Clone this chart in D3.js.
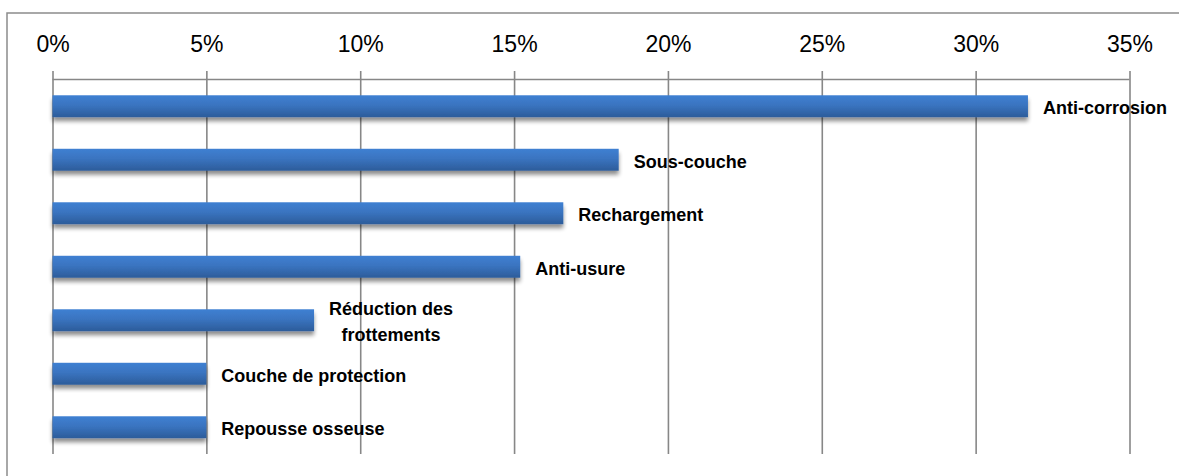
<!DOCTYPE html>
<html>
<head>
<meta charset="utf-8">
<script src="https://cdn.jsdelivr.net/npm/d3@7"></script>
<style>
  html, body { margin: 0; padding: 0; background: #fff; }
  svg { display: block; }
</style>
</head>
<body>
<svg id="chart" width="1179" height="476"></svg>
<script>
// Usage shares by application (percent)
const categories = [
  "Anti-corrosion",
  "Sous-couche",
  "Rechargement",
  "Anti-usure",
  "Réduction des frottements",
  "Couche de protection",
  "Repousse osseuse"
];
const values = [31.7, 18.4, 16.6, 15.2, 8.5, 5.0, 5.0];
const tickValues = [0, 5, 10, 15, 20, 25, 30, 35];
// Multi-line label layout
const labelLines = {
  "Réduction des frottements": ["Réduction des", "frottements"]
};

const svg = d3.select("#chart");
const W = 1179, H = 476;

const plot = { left: 52.5, right: 1129.5, top: 79.5, bottom: 454 };

const x = d3.scaleLinear().domain([0, 35]).range([plot.left, plot.right]);
const y = d3.scaleBand().domain(categories).range([plot.top, plot.bottom]).paddingInner(0.59).paddingOuter(0.295);

const defs = svg.append("defs");
const grad = defs.append("linearGradient")
  .attr("id", "barFill").attr("x1", 0).attr("y1", 0).attr("x2", 0).attr("y2", 1);
grad.append("stop").attr("offset", "0%").attr("stop-color", "#3f80d2");
grad.append("stop").attr("offset", "45%").attr("stop-color", "#3a74c0");
grad.append("stop").attr("offset", "100%").attr("stop-color", "#2c5c9a");

const shadow = defs.append("filter").attr("id", "barShadow")
  .attr("x", "-5%").attr("y", "-30%").attr("width", "110%").attr("height", "190%");
shadow.append("feGaussianBlur").attr("in", "SourceAlpha").attr("stdDeviation", 2.2).attr("result", "b");
shadow.append("feOffset").attr("in", "b").attr("dx", 0).attr("dy", 3.5).attr("result", "o");
shadow.append("feComponentTransfer").attr("in", "o").attr("result", "s")
  .append("feFuncA").attr("type", "linear").attr("slope", 0.45);
const merge = shadow.append("feMerge");
merge.append("feMergeNode").attr("in", "s");
merge.append("feMergeNode").attr("in", "SourceGraphic");

// Chart frame
svg.append("rect")
  .attr("x", 7).attr("y", 13)
  .attr("width", W + 20).attr("height", H + 20)
  .attr("fill", "none").attr("stroke", "#8c8c8c").attr("stroke-width", 1.5);

// Vertical gridlines + top axis
const axis = d3.axisTop(x)
  .tickValues(tickValues)
  .tickSize(plot.top - plot.bottom)
  .tickFormat(d => d + "%");

const gAxis = svg.append("g")
  .attr("transform", `translate(0,${plot.top})`)
  .call(axis);
gAxis.select(".domain").remove();
gAxis.selectAll(".tick line")
  .attr("y1", -8.5)
  .attr("y2", plot.bottom - plot.top)
  .attr("stroke", "#878787").attr("stroke-width", 1.6);
gAxis.selectAll(".tick text")
  .attr("y", -27.5)
  .attr("dy", 0)
  .attr("fill", "#000")
  .attr("font-family", "'Liberation Sans', Arial, sans-serif")
  .attr("font-size", 23);

// Axis baseline
svg.append("line")
  .attr("x1", x(0)).attr("x2", x(35))
  .attr("y1", plot.top).attr("y2", plot.top)
  .attr("stroke", "#878787").attr("stroke-width", 1.6);

// Bars
svg.append("g").selectAll("rect")
  .data(categories)
  .join("rect")
  .attr("x", x(0))
  .attr("y", d => y(d))
  .attr("width", (d, i) => x(values[i]) - x(0))
  .attr("height", y.bandwidth())
  .attr("fill", "url(#barFill)")
  .attr("filter", "url(#barShadow)");

// Category labels at bar ends
const labels = svg.append("g")
  .attr("font-family", "'Liberation Sans', Arial, sans-serif")
  .attr("font-weight", "bold")
  .attr("font-size", 18)
  .attr("fill", "#000");

categories.forEach((c, i) => {
  const lines = labelLines[c] || [c];
  const cy = y(c) + y.bandwidth() / 2 + 1.5;
  const lh = 26;
  const t = labels.append("text")
    .attr("x", x(values[i]) + 15)
    .attr("y", cy);
  if (lines.length === 1) {
    t.attr("dy", "0.35em").text(c);
  } else {
    // centre the lines on each other
    const tmp = t.append("tspan").text(lines[0]);
    const w0 = tmp.node().getComputedTextLength();
    tmp.remove();
    const mid = x(values[i]) + 15 + w0 / 2;
    t.attr("text-anchor", "middle");
    lines.forEach((ln, k) => {
      t.append("tspan")
        .attr("x", mid)
        .attr("y", cy + (k - (lines.length - 1) / 2) * lh)
        .attr("dy", "0.35em")
        .text(ln);
    });
  }
});
</script>
</body>
</html>
